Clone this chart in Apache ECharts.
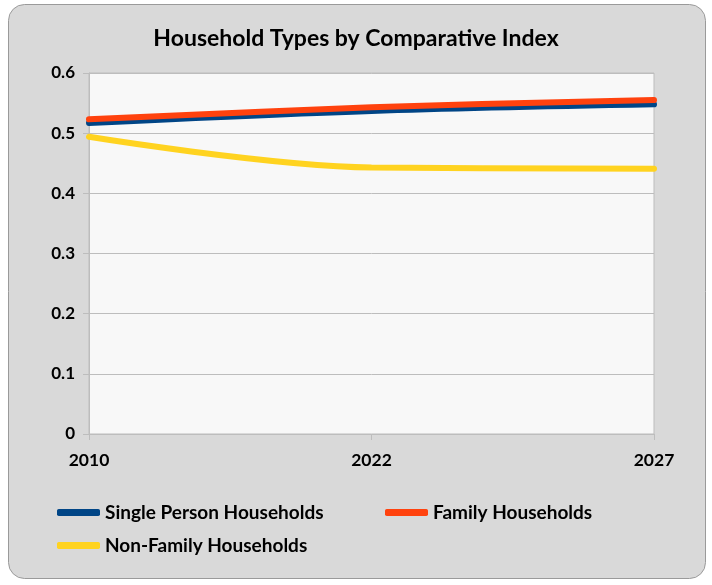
<!DOCTYPE html>
<html><head><meta charset="utf-8">
<script src="https://cdn.jsdelivr.net/npm/echarts@6/dist/echarts.min.js"></script>
<style>html,body{margin:0;padding:0;background:#fff}#c{width:712px;height:585px}</style>
</head><body><div id="c"></div>
<script>
const years = ['2010', '2022', '2027'];
const singlePerson = [0.517, 0.537, 0.548];
const family = [0.523, 0.543, 0.555];
const nonFamily = [0.494, 0.443, 0.441];
const yTicks = [0, 0.1, 0.2, 0.3, 0.4, 0.5, 0.6];

const FONT = 'Lato';
const chart = echarts.init(document.getElementById('c'));
const lineSeries = (name, data, color) => ({
  name, type: 'line', data, smooth: 0.35, showSymbol: false, symbol: 'none',
  lineStyle: { color, width: 6, cap: 'round' }, itemStyle: { color }
});
const legendItem = (name, left, top) => ({
  data: [name], left, top, icon: 'roundRect', itemWidth: 43, itemHeight: 7, itemGap: 0, padding: 0,
  textStyle: { fontFamily: FONT, fontWeight: 'bold', fontSize: 19, color: '#000', padding: [0, 0, 0, 0] }
});
chart.setOption({
  animation: false,
  graphic: [{
    type: 'rect', z: -10, shape: { x: 8.5, y: 4.5, width: 697, height: 574, r: 16 },
    style: { fill: '#d9d9d9', stroke: '#9a9a9a', lineWidth: 1 }
  }],
  title: {
    text: 'Household Types by Comparative Index', left: 'center', top: 22,
    textStyle: { fontFamily: FONT, fontWeight: 'bold', fontSize: 23, color: '#000' }
  },
  legend: [
    legendItem('Single Person Households', 57, 503),
    legendItem('Family Households', 385, 503),
    legendItem('Non-Family Households', 57, 536)
  ],
  grid: { left: 89, right: 58, top: 73, bottom: 151, show: true, backgroundColor: '#f8f8f8', borderColor: '#bdbdbd', borderWidth: 1 },
  xAxis: {
    type: 'category', data: years, boundaryGap: false,
    axisLine: { lineStyle: { color: '#bdbdbd', width: 1 } },
    axisTick: { show: true, length: 6, lineStyle: { color: '#bdbdbd' } },
    axisLabel: { fontFamily: FONT, fontWeight: 'bold', fontSize: 17.5, color: '#000', margin: 17 },
    splitLine: { show: false }
  },
  yAxis: {
    type: 'value', min: 0, max: 0.6, interval: 0.1,
    axisLine: { show: true, lineStyle: { color: '#bdbdbd' } },
    axisTick: { show: true, length: 6, lineStyle: { color: '#bdbdbd' } },
    axisLabel: { fontFamily: FONT, fontWeight: 'bold', fontSize: 17, color: '#000', margin: 14,
      formatter: v => yTicks.includes(Math.round(v * 10) / 10) ? String(Math.round(v * 10) / 10) : '' },
    splitLine: { lineStyle: { color: '#bdbdbd', width: 1 } }
  },
  series: [
    lineSeries('Single Person Households', singlePerson, '#004586'),
    lineSeries('Family Households', family, '#ff420e'),
    lineSeries('Non-Family Households', nonFamily, '#ffd320')
  ]
});
</script></body></html>
